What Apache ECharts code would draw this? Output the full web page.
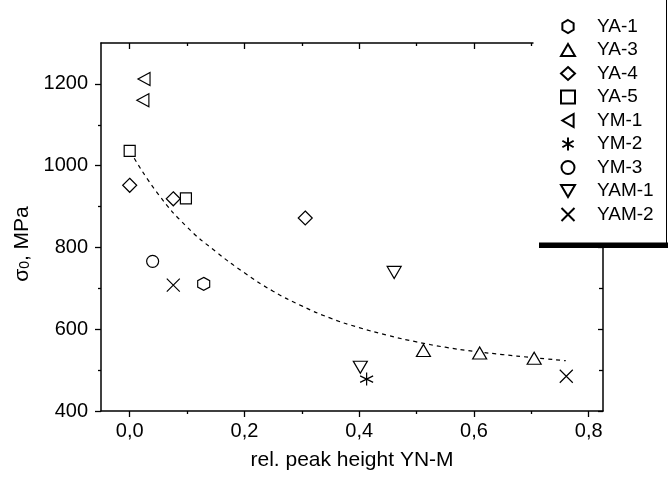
<!DOCTYPE html>
<html lang="en">
<head>
<meta charset="UTF-8">
<style>
    html, body { margin: 0; height: 100%; background: #fff; }
</style>
</head>
<body>
<div id="chart" style="width:668px;height:479px;"></div>
<script src="https://cdn.jsdelivr.net/npm/echarts@6/dist/echarts.min.js"></script>
<script>
    // data
    var seriesNames = ['YA-1', 'YA-3', 'YA-4', 'YA-5', 'YM-1', 'YM-2', 'YM-3', 'YAM-1', 'YAM-2'];
    var ya1 = [[0.129, 711]];
    var ya3 = [[0.512, 548], [0.610, 542], [0.705, 529]];
    var ya4 = [[0.000, 952], [0.076, 919], [0.306, 872]];
    var ya5 = [[0.000, 1036], [0.098, 920]];
    var ym1 = [[0.025, 1212], [0.023, 1160]];
    var ym2 = [[0.413, 478]];
    var ym3 = [[0.040, 766]];
    var yam1 = [[0.461, 739], [0.402, 507]];
    var yam2 = [[0.076, 708], [0.761, 485]];

    // dashed fit curve, read at these x positions
    var fitX = [0.008, 0.05, 0.1, 0.15, 0.2, 0.25, 0.3, 0.35, 0.4, 0.45, 0.5, 0.55, 0.6, 0.65, 0.7, 0.76];
    var fitY = [1018, 930, 850, 790, 738, 693, 657, 627, 604, 585, 569, 556, 546, 538, 531, 523];

    var xMajor = [0, 0.2, 0.4, 0.6, 0.8];
    var xMinor = [0.1, 0.3, 0.5, 0.7];
    var yMajor = [400, 600, 800, 1000, 1200];
    var yMinor = [500, 700, 900, 1100];

    var FONT = 'Liberation Sans, Arial, sans-serif';
    var seriesData = [ya1, ya3, ya4, ya5, ym1, ym2, ym3, yam1, yam2];
    var symbols = [
        'path://M5,0L9.33,2.5L9.33,7.5L5,10L0.67,7.5L0.67,2.5Z',
        'path://M5,0L10,8.66L0,8.66Z',
        'diamond',
        'rect',
        'path://M8.66,0L8.66,10L0,5Z',
        'path://M5,0L5,10M0.67,2.5L9.33,7.5M0.67,7.5L9.33,2.5',
        'circle',
        'path://M0,0L10,0L5,8.66Z',
        'path://M0,0L10,10M0,10L10,0'
    ];
    var sizes = [[12, 13], [14, 12], 14, 11, [12, 13], 13, 12, [14, 12], 13];

    var fitData = [];
    for (var i = 0; i < fitX.length; i++) {
        fitData.push([fitX[i], fitY[i]]);
    }

    var series = [{
        name: 'fit',
        type: 'line',
        data: fitData,
        smooth: true,
        showSymbol: false,
        silent: true,
        lineStyle: { color: '#000', width: 1.2, type: [4, 4] },
        z: 1
    }];
    for (var k = 0; k < seriesNames.length; k++) {
        series.push({
            name: seriesNames[k],
            type: 'scatter',
            data: seriesData[k],
            symbol: symbols[k],
            symbolSize: sizes[k],
            itemStyle: { color: '#fff', borderColor: '#000', borderWidth: 1.2, opacity: 1 },
            z: 3
        });
    }

    function fmtX(v) { return v.toFixed(1).replace('.', ','); }
    function fmtY(v) { return String(v); }

    function xAx(pos, vals, len, inside, extra) {
        return Object.assign({
            type: 'value', position: pos, min: -0.05, max: 0.825,
            axisLine: { show: false, onZero: false },
            splitLine: { show: false },
            axisTick: { show: true, inside: inside, length: len, customValues: vals, lineStyle: { color: '#000', width: 1.3 } },
            axisLabel: { show: false }
        }, extra || {});
    }
    function yAx(pos, vals, len, inside, extra) {
        return Object.assign({
            type: 'value', position: pos, min: 400, max: 1300,
            axisLine: { show: false, onZero: false },
            splitLine: { show: false },
            axisTick: { show: true, inside: inside, length: len, customValues: vals, lineStyle: { color: '#000', width: 1.3 } },
            axisLabel: { show: false }
        }, extra || {});
    }
    var solidLine = { show: true, onZero: false, lineStyle: { color: '#000', width: 1.5 } };

    var myChart = echarts.init(document.getElementById('chart'));
    myChart.setOption({
        animation: false,
        backgroundColor: '#fff',
        textStyle: { fontFamily: FONT },
        grid: { left: 101, right: 65, top: 43, bottom: 68, containLabel: false, outerBoundsMode: 'none' },
        xAxis: [
            xAx('bottom', xMajor, 6, false, {
                axisLine: solidLine,
                axisLabel: { show: true, customValues: xMajor, formatter: fmtX, color: '#000', fontSize: 20, fontFamily: FONT, margin: 10 },
                name: 'rel. peak height YN-M',
                nameLocation: 'middle',
                nameGap: 39,
                nameTextStyle: { color: '#000', fontSize: 21, fontFamily: FONT }
            }),
            xAx('bottom', xMinor, 3, false),
            xAx('top', xMajor, 6, true, { axisLine: solidLine }),
            xAx('top', xMinor, 3, true)
        ],
        yAxis: [
            yAx('left', yMajor, 6, false, {
                axisLine: solidLine,
                axisLabel: { show: true, customValues: yMajor, formatter: fmtY, color: '#000', fontSize: 20, fontFamily: FONT, margin: 13 },
                name: '{a|σ}{s|0}{a|, MPa}',
                nameLocation: 'middle',
                nameGap: 62,
                nameTextStyle: {
                    color: '#000',
                    fontFamily: FONT,
                    padding: [0, 34, 0, 0],
                    rich: {
                        a: { fontSize: 21, lineHeight: 24, verticalAlign: 'bottom', fontFamily: FONT, color: '#000' },
                        s: { fontSize: 14, lineHeight: 10, verticalAlign: 'bottom', fontFamily: FONT, color: '#000' }
                    }
                }
            }),
            yAx('left', yMinor, 3, false),
            yAx('right', yMajor, 5, true, { axisLine: solidLine }),
            yAx('right', yMinor, 4, true)
        ],
        legend: {
            data: seriesNames,
            orient: 'vertical',
            left: 555,
            top: 12,
            itemWidth: 14,
            itemHeight: 13,
            itemGap: 4.5,
            selectedMode: false,
            z: 100,
            textStyle: { color: '#000', fontSize: 19, fontFamily: FONT, lineHeight: 19, padding: [0, 0, 0, 17] }
        },
        graphic: [
            { type: 'rect', z: 50, silent: true, shape: { x: 533.5, y: -10, width: 133, height: 253 }, style: { fill: '#fff' } },
            { type: 'rect', z: 51, silent: true, shape: { x: 539, y: 242.5, width: 130, height: 5.5 }, style: { fill: '#000' } },
            { type: 'line', z: 51, silent: true, shape: { x1: 666.5, y1: -10, x2: 666.5, y2: 243 }, style: { stroke: '#000', lineWidth: 1 } }
        ],
        series: series
    });
</script>
</body>
</html>
